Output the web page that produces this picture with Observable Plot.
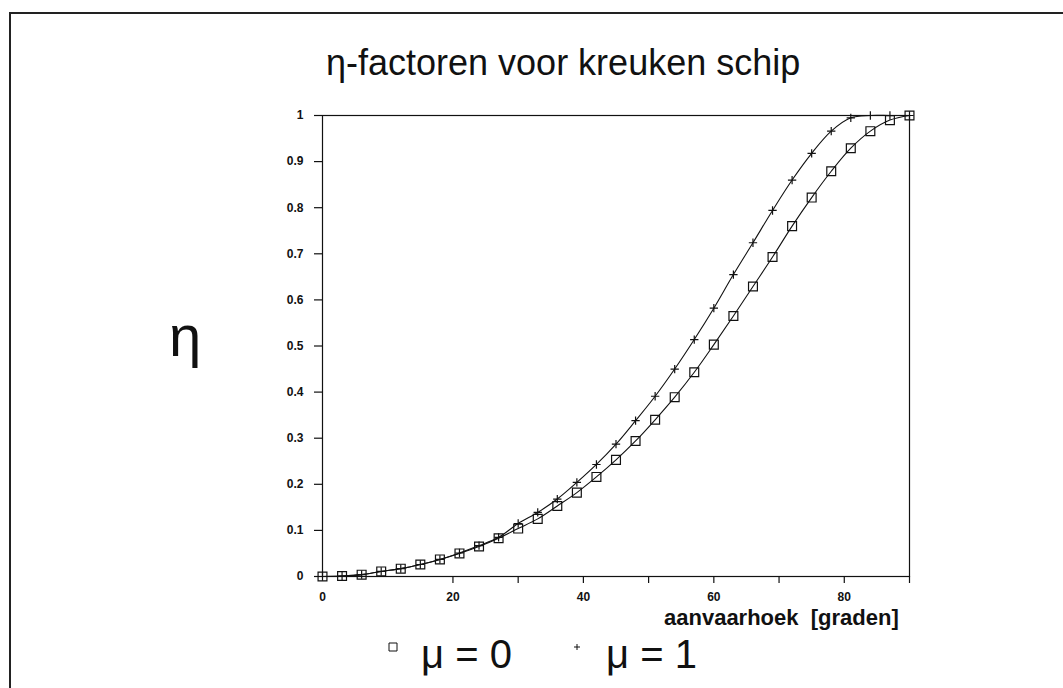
<!DOCTYPE html>
<html>
<head>
<meta charset="utf-8">
<script src="https://cdn.jsdelivr.net/npm/d3@7"></script>
<script src="https://cdn.jsdelivr.net/npm/@observablehq/plot@0.6"></script>
<style>
  html, body { margin: 0; padding: 0; background: #fff; overflow: hidden; }
  #page { position: relative; width: 1063px; height: 688px; font-family: "Liberation Sans", Arial, sans-serif; color: #111; }
  #border { position: absolute; left: 9px; top: 12px; width: 1100px; height: 720px; border-left: 2.5px solid #222; border-top: 2.5px solid #222; }
  .t { position: absolute; white-space: pre; line-height: 1; }
  #chart { position: absolute; left: 0; top: 0; }
</style>
</head>
<body>
<div id="page">
  <div id="border"></div>
  <div id="chart"></div>
  <div class="t" id="title" style="left:326px; top:45px; font-size:36px;">η-factoren voor kreuken schip</div>
  <div class="t" id="ylabel" style="left:169px; top:307px; font-size:58px;">η</div>
  <div class="t" id="xlabel" style="left:664px; top:607px; font-size:22px; font-weight:bold;">aanvaarhoek  [graden]</div>
  <div id="legend"></div>
</div>
<script>
// angle of approach (degrees)
const angles = [0, 3, 6, 9, 12, 15, 18, 21, 24, 27, 30, 33, 36, 39, 42, 45, 48, 51, 54, 57, 60, 63, 66, 69, 72, 75, 78, 81, 84, 87, 90];
// eta for mu = 0 (squares)
const etaMu0 = [0, 0.001, 0.004, 0.011, 0.017, 0.026, 0.037, 0.050, 0.065, 0.083, 0.104, 0.125, 0.153, 0.182, 0.216, 0.253, 0.294, 0.340, 0.389, 0.443, 0.503, 0.565, 0.629, 0.693, 0.760, 0.822, 0.879, 0.929, 0.966, 0.990, 1.0];
// eta for mu = 1 (plus)
const etaMu1 = [0, 0.001, 0.004, 0.011, 0.017, 0.026, 0.037, 0.051, 0.067, 0.085, 0.115, 0.139, 0.168, 0.204, 0.243, 0.287, 0.338, 0.391, 0.450, 0.514, 0.582, 0.655, 0.724, 0.794, 0.860, 0.918, 0.966, 0.995, 1.0, 1.0, 1.0];

const yTicks = [0, 0.1, 0.2, 0.3, 0.4, 0.5, 0.6, 0.7, 0.8, 0.9, 1];
const xTickMarks = [20, 30, 40, 50, 60, 70, 80, 90];
const xTickLabels = [0, 20, 40, 60, 80];
const seriesNames = ["μ = 0", "μ = 1"];

const d0 = angles.map((a, i) => ({angle: a, eta: etaMu0[i], s: seriesNames[0]}));
const d1 = angles.map((a, i) => ({angle: a, eta: etaMu1[i], s: seriesNames[1]}));

const ink = "#111";
const chart = Plot.plot({
  width: 1063,
  height: 688,
  marginLeft: 322,
  marginRight: 154,
  marginTop: 115,
  marginBottom: 112,
  style: {fontFamily: "Liberation Sans, Arial, sans-serif", background: "transparent", color: ink},
  x: {domain: [0, 90]},
  y: {domain: [0, 1]},
  marks: [
    Plot.frame({stroke: ink, strokeWidth: 1.2}),
    Plot.axisY({ticks: yTicks, tickSize: 8, tickPadding: 11, label: null, fontSize: 12, fontWeight: "bold", stroke: ink, strokeWidth: 1.2,
      tickFormat: d => String(d)}),
    Plot.axisX({ticks: xTickMarks, tickSize: 7, text: null, label: null, stroke: ink, strokeWidth: 1.2}),
    Plot.axisX({ticks: xTickLabels, tickSize: 0, tickPadding: 16, label: null, fontSize: 12, fontWeight: "bold"}),
    Plot.line(d0, {x: "angle", y: "eta", stroke: ink, strokeWidth: 1.1, curve: "catmull-rom"}),
    Plot.line(d1, {x: "angle", y: "eta", stroke: ink, strokeWidth: 1.1, curve: "catmull-rom"}),
    Plot.dot(d0, {x: "angle", y: "eta", symbol: "square", r: 5, fill: "none", stroke: ink, strokeWidth: 1.2}),
    Plot.dot(d1, {x: "angle", y: "eta", symbol: "plus", r: 2.8, stroke: ink, strokeWidth: 1.2})
  ]
});
document.getElementById("chart").appendChild(chart);

// legend
const legend = document.getElementById("legend");
const items = [
  {name: seriesNames[0], sym: "square", symX: 393, textX: 421},
  {name: seriesNames[1], sym: "plus", symX: 577, textX: 606}
];
for (const it of items) {
  const sym = document.createElementNS("http://www.w3.org/2000/svg", "svg");
  sym.setAttribute("width", 12); sym.setAttribute("height", 12);
  sym.style.position = "absolute";
  sym.style.left = (it.symX - 6) + "px";
  sym.style.top = (647 - 6) + "px";
  const p = document.createElementNS("http://www.w3.org/2000/svg", "path");
  p.setAttribute("d", it.sym === "square" ? "M2,2H10V10H2Z" : "M6,3V9M3,6H9");
  p.setAttribute("fill", "none"); p.setAttribute("stroke", ink); p.setAttribute("stroke-width", "1");
  sym.appendChild(p);
  legend.appendChild(sym);
  const t = document.createElement("div");
  t.className = "t";
  t.style.left = it.textX + "px";
  t.style.top = "634px";
  t.style.fontSize = "40px";
  t.textContent = it.name;
  legend.appendChild(t);
}
</script>
</body>
</html>
